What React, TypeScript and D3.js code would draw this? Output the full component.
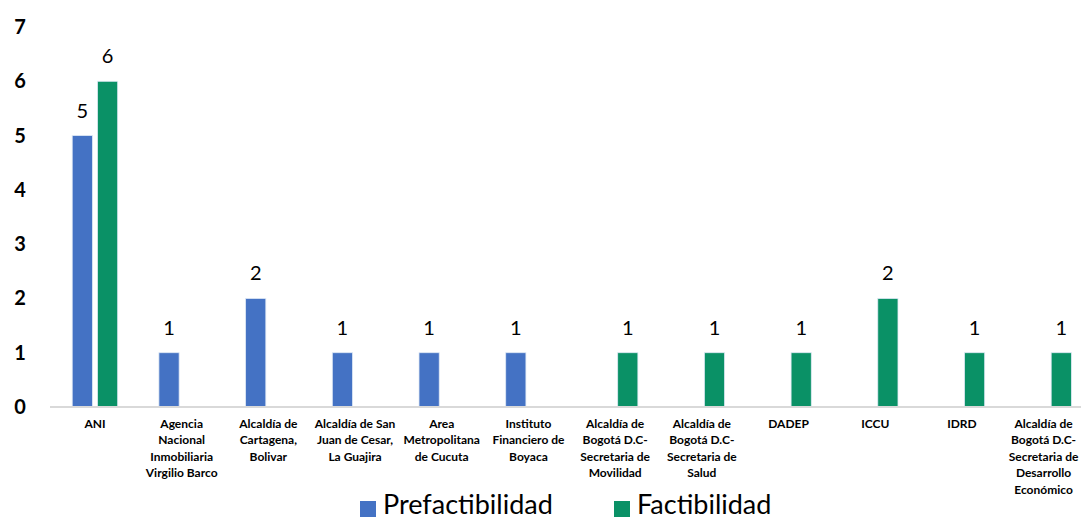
import React, { useEffect, useRef } from "react";
import * as d3 from "d3";

// categories (entities) and counts per study type
const categories = [
  ["ANI"],
  ["Agencia", "Nacional", "Inmobiliaria", "Virgilio Barco"],
  ["Alcaldía de", "Cartagena,", "Bolivar"],
  ["Alcaldía de San", "Juan de Cesar,", "La Guajira"],
  ["Area", "Metropolitana", "de Cucuta"],
  ["Instituto", "Financiero de", "Boyaca"],
  ["Alcaldía de", "Bogotá D.C-", "Secretaria de", "Movilidad"],
  ["Alcaldía de", "Bogotá D.C-", "Secretaria de", "Salud"],
  ["DADEP"],
  ["ICCU"],
  ["IDRD"],
  ["Alcaldía de", "Bogotá D.C-", "Secretaria de", "Desarrollo", "Económico"],
];
const prefactibilidad = [5, 1, 2, 1, 1, 1, 0, 0, 0, 0, 0, 0];
const factibilidad = [6, 0, 0, 0, 0, 0, 1, 1, 1, 2, 1, 1];
const seriesNames = ["Prefactibilidad", "Factibilidad"];
const colors = ["#4472C4", "#0A9166"];
const yTicks = [0, 1, 2, 3, 4, 5, 6, 7];

const W = 1081, H = 520;
const font = "Lato, 'Open Sans', sans-serif";

export default function App() {
  const ref = useRef<SVGSVGElement>(null);

  useEffect(() => {
    const svg = d3.select(ref.current);
    svg.selectAll("*").remove();

    const idx = categories.map((_, i) => String(i));
    const x = d3.scaleBand().domain(idx).range([51.6, 1092]).paddingInner(0).paddingOuter(0);
    const y = d3.scaleLinear().domain([0, 7]).range([407, 27]);
    const sub = d3.scaleBand().domain(["0", "1"]).range([-24, 24]).paddingInner(0.2).paddingOuter(0.05);

    // y tick labels
    svg.append("g")
      .selectAll("text")
      .data(yTicks)
      .join("text")
      .attr("x", 20)
      .attr("y", (d) => y(d))
      .attr("dy", "0.35em")
      .attr("text-anchor", "middle")
      .attr("font-family", font)
      .attr("font-weight", "bold")
      .attr("font-size", 20)
      .attr("fill", "#000")
      .text((d) => d);

    const series = [prefactibilidad, factibilidad];
    series.forEach((vals, s) => {
      const g = svg.append("g");
      const data = vals.map((v, i) => ({ v, i })).filter((d) => d.v > 0);
      g.selectAll("rect")
        .data(data)
        .join("rect")
        .attr("x", (d) => x(String(d.i))! + x.bandwidth() / 2 + sub(String(s))!)
        .attr("y", (d) => y(d.v))
        .attr("width", sub.bandwidth())
        .attr("height", (d) => y(0) - y(d.v))
        .attr("fill", colors[s])
        .attr("stroke", "#dfe9f5")
        .attr("stroke-width", 0.8);
      g.selectAll("text")
        .data(data)
        .join("text")
        .attr("x", (d) => x(String(d.i))! + x.bandwidth() / 2 + sub(String(s))! + sub.bandwidth() / 2)
        .attr("y", (d) => y(d.v) - 18)
        .attr("text-anchor", "middle")
        .attr("font-family", font)
        .attr("font-size", 20)
        .attr("fill", "#000")
        .text((d) => d.v);
    });

    // axis line
    svg.append("line")
      .attr("x1", 50).attr("x2", 1092)
      .attr("y1", y(0)).attr("y2", y(0))
      .attr("stroke", "#D9D9D9").attr("stroke-width", 2);

    // category labels
    const cat = svg.append("g");
    categories.forEach((lines, i) => {
      const cx = x(String(i))! + x.bandwidth() / 2;
      const t = cat.append("text")
        .attr("x", cx)
        .attr("y", 428)
        .attr("text-anchor", "middle")
        .attr("font-family", font)
        .attr("font-weight", "bold")
        .attr("font-size", 12)
        .attr("fill", "#000");
      lines.forEach((l, k) => {
        t.append("tspan")
          .attr("x", cx)
          .attr("dy", k === 0 ? 0 : 16.4)
          .text(l);
      });
      // keep the last label inside the picture
      const bb = (t.node() as SVGTextElement).getBBox();
      const over = bb.x + bb.width - (W - 2);
      if (over > 0) t.selectAll("tspan").attr("x", cx - over);
    });

    // legend
    const legendX = [360, 614];
    seriesNames.forEach((name, s) => {
      svg.append("rect")
        .attr("x", legendX[s]).attr("y", 501)
        .attr("width", 16).attr("height", 16)
        .attr("fill", colors[s]);
      svg.append("text")
        .attr("x", legendX[s] + 23).attr("y", 514)
        .attr("font-family", font)
        .attr("font-size", 27)
        .attr("fill", "#000")
        .text(name);
    });
  }, []);

  return (
    <svg
      ref={ref}
      width={W}
      height={H}
      style={{ position: "fixed", left: 0, top: 0, background: "#fff", display: "block" }}
    />
  );
}
